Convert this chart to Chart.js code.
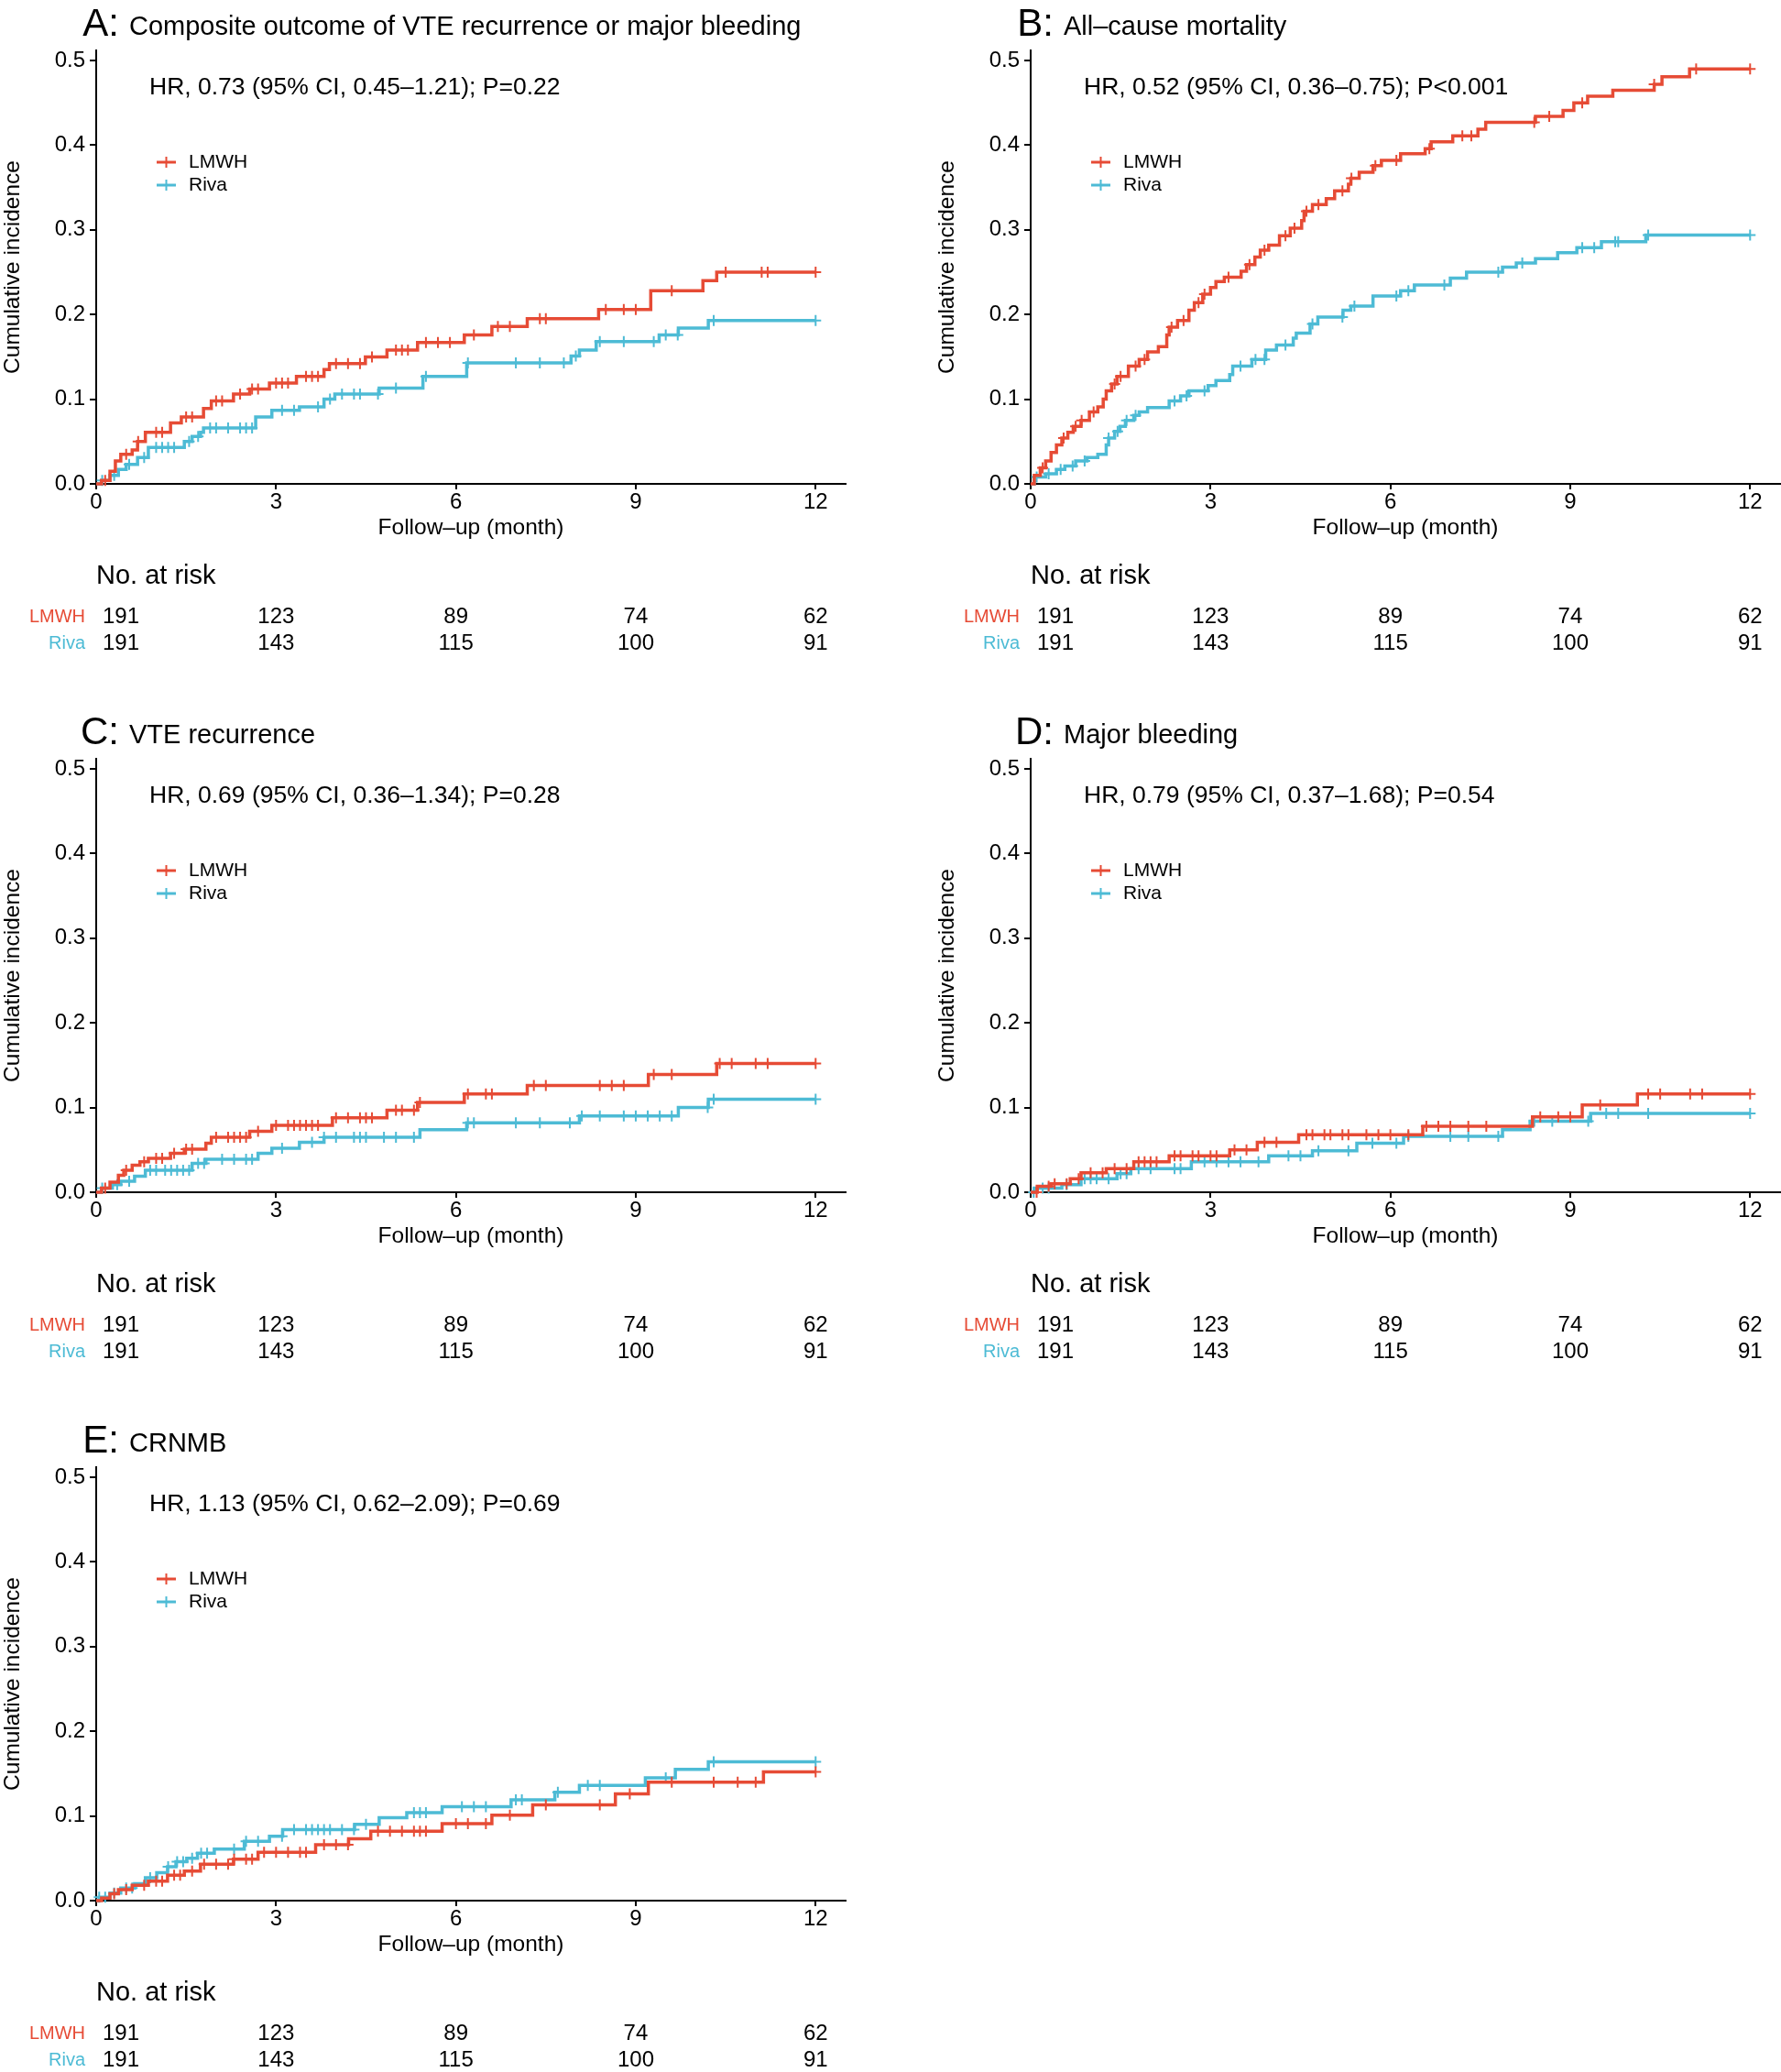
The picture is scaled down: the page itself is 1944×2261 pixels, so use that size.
<!DOCTYPE html>
<html>
<head>
<meta charset="utf-8">
<script src="https://cdn.jsdelivr.net/npm/chart.js@4.4.1/dist/chart.umd.min.js"></script>
<style>
  body { margin: 0; background: #fff; }
  #wrap { position: relative; width: 1944px; height: 2261px; background: #fff; }
  canvas { position: absolute; }
</style>
</head>
<body>
<div id="wrap"></div>
<script>
// ---- data (months, cumulative incidence) ----
const xTicks = [0, 3, 6, 9, 12];
const yTicks = [0, 0.1, 0.2, 0.3, 0.4, 0.5];
const riskTimes = [0, 3, 6, 9, 12];
const riskLmwh = [191, 123, 89, 74, 62];
const riskRiva = [191, 143, 115, 100, 91];

// A: composite
const aLmwhTime = [0.09,0.23,0.32,0.41,0.60,0.69,0.82,1.24,1.42,1.79,1.92,2.29,2.56,2.89,3.34,3.80,3.89,4.49,4.85,5.36,6.14,6.60,7.19,8.38,9.25,10.12,10.35];
const aLmwhCum  = [0.004,0.015,0.027,0.035,0.040,0.050,0.061,0.072,0.079,0.089,0.098,0.106,0.112,0.119,0.127,0.135,0.142,0.150,0.158,0.167,0.176,0.186,0.195,0.206,0.228,0.240,0.250];
const aLmwhCens = [0.15,0.5,0.7,1.0,1.1,1.5,1.6,2.0,2.1,2.4,2.6,2.7,3.0,3.1,3.2,3.5,3.6,3.7,4.0,4.2,4.4,4.6,5.0,5.1,5.2,5.5,5.7,5.9,6.3,6.7,6.9,7.4,7.5,8.5,8.8,9.0,9.6,10.5,11.1,11.2,12.0];
const aRivaTime = [0.09,0.23,0.37,0.50,0.69,0.87,1.47,1.60,1.74,1.79,2.66,2.93,3.39,3.80,3.98,4.72,5.45,6.18,7.92,8.06,8.34,9.39,9.71,10.21];
const aRivaCum  = [0.004,0.010,0.017,0.023,0.031,0.043,0.050,0.056,0.061,0.066,0.079,0.087,0.091,0.100,0.106,0.113,0.127,0.143,0.151,0.158,0.168,0.176,0.184,0.193];
const aRivaCens = [0.1,0.3,0.55,0.8,1.0,1.1,1.2,1.3,1.55,1.7,1.9,2.0,2.2,2.4,2.5,2.6,3.1,3.3,3.7,3.9,4.1,4.3,4.4,4.7,5.0,5.5,6.2,7.0,7.4,7.8,8.0,8.4,8.8,9.3,9.5,9.7,10.3,12.0];

// B: all-cause mortality
const bLmwhTime = [0.06,0.16,0.25,0.34,0.43,0.52,0.62,0.71,0.84,0.98,1.12,1.21,1.26,1.35,1.44,1.63,1.81,1.95,2.13,2.27,2.31,2.45,2.64,2.73,2.87,3.00,3.09,3.23,3.51,3.60,3.74,3.83,3.97,4.15,4.33,4.52,4.56,4.70,4.93,5.07,5.30,5.34,5.48,5.71,5.85,6.17,6.58,6.68,7.04,7.46,7.59,8.42,8.88,9.06,9.29,9.71,10.40,10.53,10.99];
const bLmwhCum  = [0.010,0.019,0.027,0.037,0.046,0.054,0.061,0.068,0.075,0.085,0.091,0.100,0.110,0.118,0.127,0.139,0.147,0.156,0.162,0.176,0.185,0.193,0.205,0.214,0.224,0.232,0.239,0.244,0.251,0.259,0.268,0.276,0.282,0.293,0.302,0.311,0.322,0.330,0.337,0.346,0.354,0.361,0.368,0.376,0.382,0.390,0.396,0.404,0.411,0.419,0.427,0.434,0.441,0.450,0.458,0.465,0.472,0.481,0.490];
const bLmwhCens = [0.2,0.55,0.75,0.85,1.05,1.4,1.5,1.75,1.9,2.35,2.55,2.8,2.9,3.3,3.65,3.9,4.25,4.4,4.6,4.8,5.2,5.35,5.75,6.1,6.65,7.2,7.35,8.4,8.65,9.2,10.4,11.1,12.0];
const bRivaTime = [0.06,0.25,0.43,0.57,0.75,0.94,1.12,1.26,1.30,1.40,1.49,1.58,1.72,1.81,1.95,2.31,2.50,2.64,2.96,3.09,3.32,3.37,3.69,3.92,4.10,4.38,4.43,4.66,4.79,5.21,5.34,5.71,6.17,6.40,7.00,7.27,7.87,8.10,8.42,8.79,9.11,9.52,10.26];
const bRivaCum  = [0.008,0.012,0.017,0.021,0.027,0.031,0.035,0.046,0.054,0.062,0.068,0.075,0.081,0.085,0.090,0.098,0.104,0.110,0.116,0.122,0.129,0.139,0.147,0.158,0.164,0.172,0.178,0.189,0.197,0.205,0.210,0.222,0.228,0.235,0.243,0.250,0.256,0.261,0.266,0.273,0.279,0.286,0.294];
const bRivaCens = [0.1,0.3,0.5,0.7,0.9,1.3,1.45,1.6,1.75,2.4,2.6,2.9,3.5,3.75,3.9,4.25,4.7,5.2,5.4,6.1,6.3,6.9,7.8,8.2,9.2,9.4,9.75,9.8,10.3,12.0];

// C: VTE recurrence
const cLmwhTime = [0.09,0.23,0.37,0.46,0.60,0.73,0.87,1.24,1.47,1.83,1.92,2.56,2.93,3.94,4.85,5.36,6.14,7.19,9.21,10.35];
const cLmwhCum  = [0.005,0.012,0.020,0.026,0.032,0.036,0.040,0.046,0.051,0.058,0.065,0.072,0.079,0.088,0.097,0.106,0.116,0.126,0.139,0.152];
const cLmwhCens = [0.15,0.5,0.8,1.0,1.1,1.3,1.5,1.6,2.0,2.2,2.3,2.4,2.5,2.7,3.0,3.2,3.3,3.4,3.5,3.6,3.7,4.0,4.2,4.4,4.5,4.6,5.0,5.1,5.3,5.4,6.2,6.5,6.6,7.3,7.5,8.4,8.6,8.8,9.3,9.6,10.4,10.6,11.0,11.2,12.0];
const cRivaTime = [0.09,0.27,0.41,0.64,0.82,1.60,1.83,2.70,2.93,3.39,3.80,5.40,6.18,8.06,9.71,10.21];
const cRivaCum  = [0.005,0.009,0.013,0.019,0.026,0.034,0.039,0.046,0.052,0.059,0.065,0.074,0.082,0.090,0.100,0.110];
const cRivaCens = [0.1,0.35,0.55,0.9,1.0,1.15,1.25,1.35,1.45,1.55,1.7,1.8,2.1,2.3,2.5,2.6,3.1,3.6,3.8,4.0,4.3,4.4,4.5,4.8,5.0,5.3,6.2,6.3,7.0,7.4,7.9,8.1,8.4,8.8,9.0,9.2,9.4,9.6,10.2,10.3,12.0];

// D: major bleeding
const dLmwhTime = [0.11,0.34,0.66,0.84,1.26,1.72,2.31,3.32,3.78,4.47,6.54,8.37,9.20,10.12];
const dLmwhCum  = [0.007,0.010,0.016,0.023,0.028,0.036,0.043,0.050,0.059,0.068,0.078,0.089,0.103,0.116];
const dLmwhCens = [0.1,0.3,0.4,0.6,0.8,1.0,1.2,1.4,1.6,1.8,1.9,2.0,2.1,2.4,2.5,2.7,2.8,3.0,3.1,3.4,3.6,3.9,4.1,4.6,4.7,4.9,5.0,5.2,5.3,5.6,5.8,6.0,6.3,6.6,6.8,7.0,7.3,7.6,8.5,8.8,9.0,9.5,10.3,10.5,11.0,11.2,12.0];
const dRivaTime = [0.06,0.52,0.84,1.44,1.67,2.68,3.97,4.70,5.44,6.22,7.87,8.33,9.34];
const dRivaCum  = [0.005,0.009,0.016,0.022,0.028,0.036,0.043,0.049,0.058,0.066,0.074,0.084,0.093];
const dRivaCens = [0.05,0.2,0.3,0.6,0.9,1.0,1.1,1.3,1.5,1.6,1.8,2.0,2.4,2.5,2.9,3.1,3.3,3.5,3.8,4.3,4.5,4.8,5.3,5.7,6.1,6.3,7.0,7.3,7.8,8.4,8.7,9.3,9.6,9.8,10.3,12.0];

// E: CRNMB
const eLmwhTime = [0.09,0.23,0.37,0.60,0.87,1.19,1.47,1.74,2.29,2.70,3.66,4.21,4.58,5.77,6.60,7.28,8.66,9.21,11.13];
const eLmwhCum  = [0.003,0.008,0.013,0.018,0.023,0.030,0.035,0.043,0.049,0.057,0.066,0.073,0.082,0.091,0.101,0.113,0.126,0.140,0.152];
const eLmwhCens = [0.3,0.5,0.8,1.0,1.1,1.3,1.4,1.6,1.8,2.0,2.2,2.3,2.5,2.6,2.8,3.0,3.2,3.4,3.5,3.8,4.0,4.2,4.7,4.9,5.1,5.3,5.4,5.5,6.0,6.2,6.5,6.9,7.5,8.4,8.9,9.6,10.3,10.7,11.0,12.0];
const eRivaTime = [0.05,0.23,0.41,0.64,0.82,1.01,1.19,1.33,1.51,1.69,1.97,2.47,2.89,3.11,4.31,4.72,5.18,5.77,6.92,7.65,8.06,9.16,9.66,10.21];
const eRivaCum  = [0.004,0.009,0.015,0.020,0.027,0.033,0.040,0.046,0.050,0.056,0.061,0.070,0.076,0.084,0.090,0.098,0.104,0.111,0.119,0.128,0.136,0.145,0.155,0.164];
const eRivaCens = [0.05,0.15,0.3,0.5,0.6,0.9,1.2,1.35,1.45,1.6,1.75,1.85,2.3,2.5,2.7,3.1,3.3,3.5,3.6,3.7,3.8,3.9,4.1,4.3,4.5,5.3,5.4,5.5,6.1,6.3,6.5,7.0,7.1,7.7,8.2,8.4,9.5,10.3,12.0];

const RED = '#E64B35';
const BLUE = '#4DBBD5';
const FONT = "'Liberation Sans', Arial, Helvetica, sans-serif";

const panels = [
  { left: 0,    top: 0,    h: 773, letter: 'A:', title: 'Composite outcome of VTE recurrence or major bleeding',
    hr: 'HR, 0.73 (95% CI, 0.45–1.21); P=0.22',
    lmwh: [aLmwhTime, aLmwhCum, aLmwhCens], riva: [aRivaTime, aRivaCum, aRivaCens] },
  { left: 1020, top: 0,    h: 773, letter: 'B:', title: 'All–cause mortality',
    hr: 'HR, 0.52 (95% CI, 0.36–0.75); P<0.001',
    lmwh: [bLmwhTime, bLmwhCum, bLmwhCens], riva: [bRivaTime, bRivaCum, bRivaCens] },
  { left: 0,    top: 773,  h: 773, letter: 'C:', title: 'VTE recurrence',
    hr: 'HR, 0.69 (95% CI, 0.36–1.34); P=0.28',
    lmwh: [cLmwhTime, cLmwhCum, cLmwhCens], riva: [cRivaTime, cRivaCum, cRivaCens] },
  { left: 1020, top: 773,  h: 773, letter: 'D:', title: 'Major bleeding',
    hr: 'HR, 0.79 (95% CI, 0.37–1.68); P=0.54',
    lmwh: [dLmwhTime, dLmwhCum, dLmwhCens], riva: [dRivaTime, dRivaCum, dRivaCens] },
  { left: 0,    top: 1546, h: 715, letter: 'E:', title: 'CRNMB',
    hr: 'HR, 1.13 (95% CI, 0.62–2.09); P=0.69',
    lmwh: [eLmwhTime, eLmwhCum, eLmwhCens], riva: [eRivaTime, eRivaCum, eRivaCens] }
];

function stepPoints(times, cums) {
  const pts = [{ x: 0, y: 0 }];
  times.forEach((t, i) => pts.push({ x: t, y: cums[i] }));
  pts.push({ x: 12, y: cums[cums.length - 1] });
  return pts;
}

function valueAt(times, cums, t) {
  let v = 0;
  times.forEach((ti, i) => { if (ti <= t) v = cums[i]; });
  return v;
}

function censorPoints(times, cums, cens) {
  return cens.map(t => ({ x: t, y: valueAt(times, cums, t) }));
}

const panelText = {
  id: 'panelText',
  afterDraw(chart, args, opts) {
    const ctx = chart.ctx;
    const xs = chart.scales.x;
    ctx.save();
    ctx.fillStyle = '#000';
    ctx.textBaseline = 'alphabetic';
    ctx.textAlign = 'right';
    ctx.font = `42px ${FONT}`;
    ctx.fillText(opts.letter, 130, 39);
    ctx.textAlign = 'left';
    ctx.font = `29px ${FONT}`;
    ctx.fillText(opts.title, 141, 38);

    ctx.textBaseline = 'middle';
    ctx.font = `26.5px ${FONT}`;
    ctx.fillText(opts.hr, 163, 96);

    // legend
    [['LMWH', RED], ['Riva', BLUE]].forEach(([name, col], i) => {
      const y = 177 + i * 25;
      ctx.strokeStyle = col;
      ctx.lineWidth = 3;
      ctx.beginPath(); ctx.moveTo(171, y); ctx.lineTo(192, y); ctx.stroke();
      ctx.lineWidth = 2;
      ctx.beginPath(); ctx.moveTo(181.5, y - 6); ctx.lineTo(181.5, y + 6); ctx.stroke();
      ctx.fillStyle = '#000';
      ctx.font = `21px ${FONT}`;
      ctx.fillText(name, 206, y);
    });

    // risk table
    ctx.font = `29px ${FONT}`;
    ctx.fillText('No. at risk', 105, 629);
    [['LMWH', RED, riskLmwh, 673], ['Riva', BLUE, riskRiva, 702]].forEach(([name, col, vals, y]) => {
      ctx.font = `20px ${FONT}`;
      ctx.fillStyle = col;
      ctx.textAlign = 'right';
      ctx.fillText(name, 93, y);
      ctx.font = `24px ${FONT}`;
      ctx.fillStyle = '#000';
      riskTimes.forEach((t, i) => {
        const px = xs.getPixelForValue(t);
        if (i === 0) { ctx.textAlign = 'left'; ctx.fillText(String(vals[i]), px + 7, y); }
        else { ctx.textAlign = 'center'; ctx.fillText(String(vals[i]), px, y); }
      });
    });
    ctx.restore();
  }
};

const wrap = document.getElementById('wrap');

panels.forEach(p => {
  const cv = document.createElement('canvas');
  cv.width = 924;
  cv.height = p.h;
  cv.style.left = p.left + 'px';
  cv.style.top = p.top + 'px';
  wrap.appendChild(cv);

  const curve = (arr, col, label) => ({
    label: label,
    data: stepPoints(arr[0], arr[1]),
    borderColor: col,
    borderWidth: 3.5,
    pointRadius: 0,
    stepped: 'before',
    fill: false,
    clip: false
  });
  const marks = (arr, col, label) => ({
    label: label + ' censored',
    data: censorPoints(arr[0], arr[1], arr[2]),
    showLine: false,
    pointStyle: 'cross',
    pointRadius: 6,
    borderColor: col,
    pointBorderColor: col,
    pointBorderWidth: 2,
    borderWidth: 2,
    clip: false
  });

  new Chart(cv, {
    type: 'line',
    data: {
      datasets: [
        marks(p.lmwh, RED, 'LMWH'),
        curve(p.lmwh, RED, 'LMWH'),
        marks(p.riva, BLUE, 'Riva'),
        curve(p.riva, BLUE, 'Riva')
      ]
    },
    options: {
      responsive: false,
      animation: false,
      devicePixelRatio: 1,
      layout: { autoPadding: false, padding: { left: 0, top: 55, right: 1, bottom: p.h - 591 } },
      plugins: {
        legend: { display: false },
        tooltip: { enabled: false },
        panelText: { letter: p.letter, title: p.title, hr: p.hr }
      },
      scales: {
        x: {
          type: 'linear',
          min: 0,
          max: 12.5,
          afterBuildTicks: s => { s.ticks = xTicks.map(v => ({ value: v })); },
          afterFit: s => { s.height = 63; s.paddingRight = 0; s.paddingLeft = 0; },
          ticks: { color: '#000', padding: 2, font: { family: FONT, size: 24, lineHeight: 1 }, callback: v => String(v) },
          grid: { display: true, drawOnChartArea: false, drawTicks: true, tickLength: 6, color: '#000', lineWidth: 2 },
          border: { display: true, color: '#000', width: 2 },
          title: { display: true, text: 'Follow–up (month)', color: '#000', padding: { top: 0, bottom: 0 },
                   font: { family: FONT, size: 24.5 } }
        },
        y: {
          type: 'linear',
          min: 0,
          max: 0.512,
          afterBuildTicks: s => { s.ticks = yTicks.map(v => ({ value: v })); },
          afterFit: s => { s.width = 105; },
          ticks: { color: '#000', padding: 5, font: { family: FONT, size: 24 }, callback: v => v.toFixed(1) },
          grid: { display: true, drawOnChartArea: false, drawTicks: true, tickLength: 7, color: '#000', lineWidth: 2 },
          border: { display: true, color: '#000', width: 2 },
          title: { display: true, text: 'Cumulative incidence', color: '#000', padding: { top: 0, bottom: 0 },
                   font: { family: FONT, size: 24.5 } }
        }
      }
    },
    plugins: [panelText]
  });
});
</script>
</body>
</html>
